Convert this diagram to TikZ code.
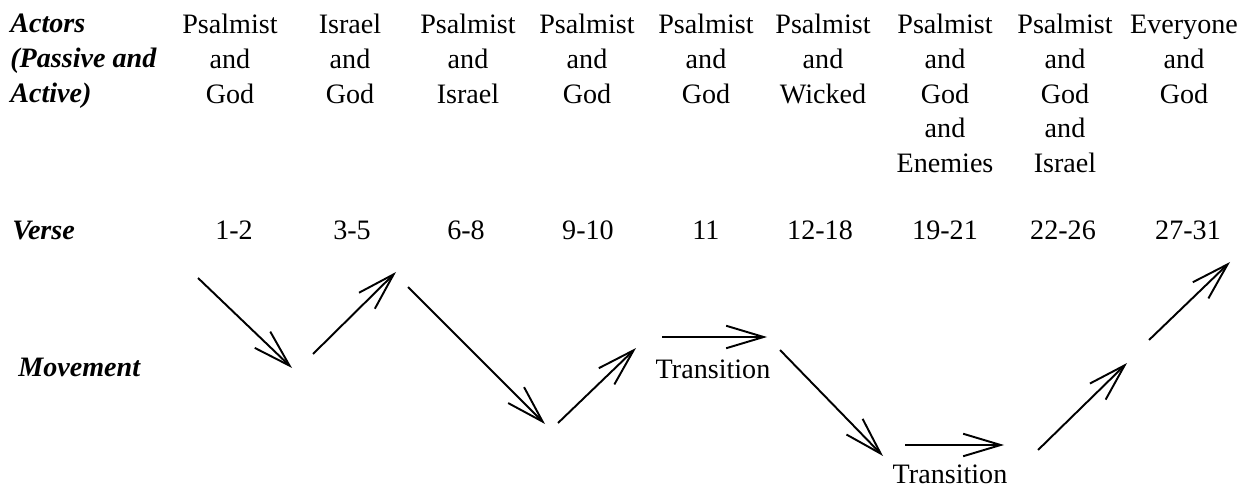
\documentclass[tikz,border=0pt]{standalone}
\usepackage{fontspec}
\setmainfont{Liberation Serif}
\usepackage{tikz}
\usetikzlibrary{arrows.meta, positioning}

\begin{document}
\begin{tikzpicture}[
    x=0.02cm, y=-0.02cm,
    actor/.style={anchor=north, align=center, inner sep=0pt, font=\fontsize{16}{19.75}\selectfont},
    rowlbl/.style={inner sep=0pt, align=left, font=\fontsize{16}{19.75}\selectfont\bfseries\itshape},
    verse/.style={anchor=base, inner sep=0pt, font=\fontsize{16}{19.75}\selectfont},
    trans/.style={anchor=base, inner sep=0pt, font=\fontsize{16}{19.75}\selectfont},
    move/.style={-{Straight Barb[length=7.5mm, width=4.5mm]}, line width=1.1pt},
]
    \useasboundingbox (0,0) rectangle (1246,489);

    % Row labels (left)
    \node[rowlbl, anchor=north west] (actors) at (10,14) {Actors\\(Passive and\\Active)};
    \node[rowlbl, anchor=base west] (verselbl) at (12,240) {Verse};
    \node[rowlbl, anchor=base west] (movelbl) at (18,376) {Movement};

    % Actors per section
    \node[actor] (c1) at (230,14) {Psalmist\\and\\God};
    \node[actor] (c2) at (350,14) {Israel\\and\\God};
    \node[actor] (c3) at (468,14) {Psalmist\\and\\Israel};
    \node[actor] (c4) at (587,14) {Psalmist\\and\\God};
    \node[actor] (c5) at (706,14) {Psalmist\\and\\God};
    \node[actor] (c6) at (823,14) {Psalmist\\and\\Wicked};
    \node[actor] (c7) at (945,14) {Psalmist\\and\\God\\and\\Enemies};
    \node[actor] (c8) at (1065,14) {Psalmist\\and\\God\\and\\Israel};
    \node[actor] (c9) at (1184,15) {Everyone\\and\\God};

    % Verse numbers
    \node[verse] (v1) at (234,240) {1-2};
    \node[verse] (v2) at (352,240) {3-5};
    \node[verse] (v3) at (466,240) {6-8};
    \node[verse] (v4) at (588,240) {9-10};
    \node[verse] (v5) at (706,240) {11};
    \node[verse] (v6) at (820,240) {12-18};
    \node[verse] (v7) at (945,240) {19-21};
    \node[verse] (v8) at (1063,240) {22-26};
    \node[verse] (v9) at (1188,240) {27-31};

    % Transition labels
    \node[trans] (t1) at (713,378) {Transition};
    \node[trans] (t2) at (950,483) {Transition};

    % Movement arrow end points
    \coordinate (m1s) at (198,278);  \coordinate (m1e) at (292,368);
    \coordinate (m2s) at (313,354);  \coordinate (m2e) at (396,272);
    \coordinate (m3s) at (408,287);  \coordinate (m3e) at (545,424);
    \coordinate (m4s) at (558,423);  \coordinate (m4e) at (636,348);
    \coordinate (m5s) at (662,337);  \coordinate (m5e) at (767,337);
    \coordinate (m6s) at (780,350);  \coordinate (m6e) at (883,456);
    \coordinate (m7s) at (905,445);  \coordinate (m7e) at (1004,445);
    \coordinate (m8s) at (1038,450); \coordinate (m8e) at (1127,363);
    \coordinate (m9s) at (1149,340); \coordinate (m9e) at (1230,262);

    % Movement arrows
    \draw[move] (m1s) -- (m1e);
    \draw[move] (m2s) -- (m2e);
    \draw[move] (m3s) -- (m3e);
    \draw[move] (m4s) -- (m4e);
    \draw[move] (m5s) -- (m5e);
    \draw[move] (m6s) -- (m6e);
    \draw[move] (m7s) -- (m7e);
    \draw[move] (m8s) -- (m8e);
    \draw[move] (m9s) -- (m9e);
\end{tikzpicture}
\end{document}
